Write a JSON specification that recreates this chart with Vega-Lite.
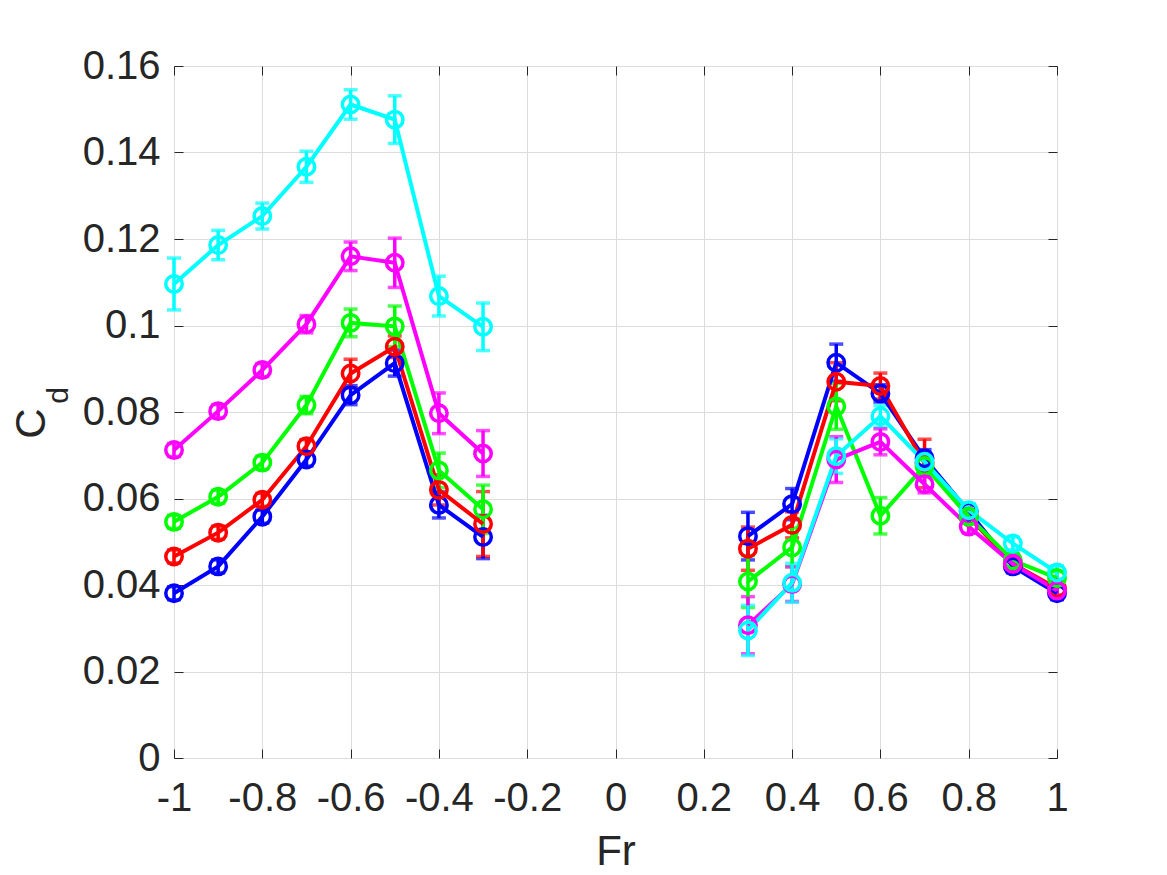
{
  "$schema": "https://vega.github.io/schema/vega-lite/v6.json",
  "width": 883,
  "height": 692,
  "autosize": {"type": "none"},
  "padding": {"left": 174, "top": 66, "right": 110, "bottom": 117},
  "background": "white",
  "config": {
    "view": {"stroke": "#262626", "strokeWidth": 1},
    "axis": {
      "labelFont": "Liberation Sans",
      "labelFontSize": 40,
      "labelColor": "#262626",
      "titleFont": "Liberation Sans",
      "titleColor": "#262626",
      "titleFontWeight": "normal",
      "tickColor": "#262626",
      "tickWidth": 1,
      "domain": false,
      "gridColor": "#dcdcdc",
      "gridWidth": 1
    }
  },
  "data": {
    "values": [
      {"s": "s1", "side": "neg", "fr": -1.0, "cd": 0.0381, "err": 0.0015},
      {"s": "s1", "side": "neg", "fr": -0.9, "cd": 0.0443, "err": 0.0015},
      {"s": "s1", "side": "neg", "fr": -0.8, "cd": 0.0558, "err": 0.0015},
      {"s": "s1", "side": "neg", "fr": -0.7, "cd": 0.0690, "err": 0.0015},
      {"s": "s1", "side": "neg", "fr": -0.6, "cd": 0.0839, "err": 0.0022},
      {"s": "s1", "side": "neg", "fr": -0.5, "cd": 0.0913, "err": 0.0030},
      {"s": "s1", "side": "neg", "fr": -0.4, "cd": 0.0585, "err": 0.0030},
      {"s": "s1", "side": "neg", "fr": -0.3, "cd": 0.0511, "err": 0.0050},
      {"s": "s1", "side": "pos", "fr": 0.3, "cd": 0.0513, "err": 0.0055},
      {"s": "s1", "side": "pos", "fr": 0.4, "cd": 0.0587, "err": 0.0036},
      {"s": "s1", "side": "pos", "fr": 0.5, "cd": 0.0914, "err": 0.0043},
      {"s": "s1", "side": "pos", "fr": 0.6, "cd": 0.0843, "err": 0.0020},
      {"s": "s1", "side": "pos", "fr": 0.7, "cd": 0.0693, "err": 0.0020},
      {"s": "s1", "side": "pos", "fr": 0.8, "cd": 0.0570, "err": 0.0015},
      {"s": "s1", "side": "pos", "fr": 0.9, "cd": 0.0443, "err": 0.0015},
      {"s": "s1", "side": "pos", "fr": 1.0, "cd": 0.0381, "err": 0.0015},

      {"s": "s2", "side": "neg", "fr": -1.0, "cd": 0.0466, "err": 0.0015},
      {"s": "s2", "side": "neg", "fr": -0.9, "cd": 0.0521, "err": 0.0015},
      {"s": "s2", "side": "neg", "fr": -0.8, "cd": 0.0597, "err": 0.0015},
      {"s": "s2", "side": "neg", "fr": -0.7, "cd": 0.0721, "err": 0.0015},
      {"s": "s2", "side": "neg", "fr": -0.6, "cd": 0.0889, "err": 0.0033},
      {"s": "s2", "side": "neg", "fr": -0.5, "cd": 0.0951, "err": 0.0025},
      {"s": "s2", "side": "neg", "fr": -0.4, "cd": 0.0620, "err": 0.0035},
      {"s": "s2", "side": "neg", "fr": -0.3, "cd": 0.0541, "err": 0.0075},
      {"s": "s2", "side": "pos", "fr": 0.3, "cd": 0.0484, "err": 0.0050},
      {"s": "s2", "side": "pos", "fr": 0.4, "cd": 0.0539, "err": 0.0030},
      {"s": "s2", "side": "pos", "fr": 0.5, "cd": 0.0870, "err": 0.0044},
      {"s": "s2", "side": "pos", "fr": 0.6, "cd": 0.0860, "err": 0.0030},
      {"s": "s2", "side": "pos", "fr": 0.7, "cd": 0.0681, "err": 0.0056},
      {"s": "s2", "side": "pos", "fr": 0.8, "cd": 0.0558, "err": 0.0015},
      {"s": "s2", "side": "pos", "fr": 0.9, "cd": 0.0449, "err": 0.0015},
      {"s": "s2", "side": "pos", "fr": 1.0, "cd": 0.0392, "err": 0.0015},

      {"s": "s3", "side": "neg", "fr": -1.0, "cd": 0.0546, "err": 0.0015},
      {"s": "s3", "side": "neg", "fr": -0.9, "cd": 0.0604, "err": 0.0015},
      {"s": "s3", "side": "neg", "fr": -0.8, "cd": 0.0683, "err": 0.0015},
      {"s": "s3", "side": "neg", "fr": -0.7, "cd": 0.0816, "err": 0.0020},
      {"s": "s3", "side": "neg", "fr": -0.6, "cd": 0.1006, "err": 0.0032},
      {"s": "s3", "side": "neg", "fr": -0.5, "cd": 0.0998, "err": 0.0047},
      {"s": "s3", "side": "neg", "fr": -0.4, "cd": 0.0665, "err": 0.0040},
      {"s": "s3", "side": "neg", "fr": -0.3, "cd": 0.0575, "err": 0.0056},
      {"s": "s3", "side": "pos", "fr": 0.3, "cd": 0.0408, "err": 0.0060},
      {"s": "s3", "side": "pos", "fr": 0.4, "cd": 0.0487, "err": 0.0045},
      {"s": "s3", "side": "pos", "fr": 0.5, "cd": 0.0813, "err": 0.0053},
      {"s": "s3", "side": "pos", "fr": 0.6, "cd": 0.0560, "err": 0.0042},
      {"s": "s3", "side": "pos", "fr": 0.7, "cd": 0.0675, "err": 0.0020},
      {"s": "s3", "side": "pos", "fr": 0.8, "cd": 0.0558, "err": 0.0015},
      {"s": "s3", "side": "pos", "fr": 0.9, "cd": 0.0457, "err": 0.0015},
      {"s": "s3", "side": "pos", "fr": 1.0, "cd": 0.0416, "err": 0.0015},

      {"s": "s4", "side": "neg", "fr": -1.0, "cd": 0.0712, "err": 0.0015},
      {"s": "s4", "side": "neg", "fr": -0.9, "cd": 0.0802, "err": 0.0015},
      {"s": "s4", "side": "neg", "fr": -0.8, "cd": 0.0897, "err": 0.0015},
      {"s": "s4", "side": "neg", "fr": -0.7, "cd": 0.1003, "err": 0.0020},
      {"s": "s4", "side": "neg", "fr": -0.6, "cd": 0.1160, "err": 0.0033},
      {"s": "s4", "side": "neg", "fr": -0.5, "cd": 0.1145, "err": 0.0057},
      {"s": "s4", "side": "neg", "fr": -0.4, "cd": 0.0797, "err": 0.0047},
      {"s": "s4", "side": "neg", "fr": -0.3, "cd": 0.0704, "err": 0.0053},
      {"s": "s4", "side": "pos", "fr": 0.3, "cd": 0.0307, "err": 0.0066},
      {"s": "s4", "side": "pos", "fr": 0.4, "cd": 0.0402, "err": 0.0040},
      {"s": "s4", "side": "pos", "fr": 0.5, "cd": 0.0690, "err": 0.0053},
      {"s": "s4", "side": "pos", "fr": 0.6, "cd": 0.0731, "err": 0.0030},
      {"s": "s4", "side": "pos", "fr": 0.7, "cd": 0.0633, "err": 0.0020},
      {"s": "s4", "side": "pos", "fr": 0.8, "cd": 0.0535, "err": 0.0015},
      {"s": "s4", "side": "pos", "fr": 0.9, "cd": 0.0449, "err": 0.0015},
      {"s": "s4", "side": "pos", "fr": 1.0, "cd": 0.0387, "err": 0.0015},

      {"s": "s5", "side": "neg", "fr": -1.0, "cd": 0.1096, "err": 0.0060},
      {"s": "s5", "side": "neg", "fr": -0.9, "cd": 0.1186, "err": 0.0034},
      {"s": "s5", "side": "neg", "fr": -0.8, "cd": 0.1253, "err": 0.0030},
      {"s": "s5", "side": "neg", "fr": -0.7, "cd": 0.1367, "err": 0.0036},
      {"s": "s5", "side": "neg", "fr": -0.6, "cd": 0.1511, "err": 0.0034},
      {"s": "s5", "side": "neg", "fr": -0.5, "cd": 0.1476, "err": 0.0055},
      {"s": "s5", "side": "neg", "fr": -0.4, "cd": 0.1068, "err": 0.0046},
      {"s": "s5", "side": "neg", "fr": -0.3, "cd": 0.0997, "err": 0.0055},
      {"s": "s5", "side": "pos", "fr": 0.3, "cd": 0.0295, "err": 0.0058},
      {"s": "s5", "side": "pos", "fr": 0.4, "cd": 0.0405, "err": 0.0045},
      {"s": "s5", "side": "pos", "fr": 0.5, "cd": 0.0698, "err": 0.0040},
      {"s": "s5", "side": "pos", "fr": 0.6, "cd": 0.0790, "err": 0.0025},
      {"s": "s5", "side": "pos", "fr": 0.7, "cd": 0.0685, "err": 0.0020},
      {"s": "s5", "side": "pos", "fr": 0.8, "cd": 0.0573, "err": 0.0015},
      {"s": "s5", "side": "pos", "fr": 0.9, "cd": 0.0496, "err": 0.0015},
      {"s": "s5", "side": "pos", "fr": 1.0, "cd": 0.0429, "err": 0.0015}
    ]
  },
  "layer": [
    {
      "mark": {"type": "errorbar", "ticks": {"size": 14, "thickness": 3.5}, "thickness": 3.5},
      "encoding": {
        "x": {"field": "fr", "type": "quantitative", "scale": {"domain": [-1, 1], "nice": false}, "axis": null},
        "y": {
          "field": "cd", "type": "quantitative", "scale": {"domain": [0, 0.16], "nice": false},
          "axis": {
            "orient": "left", "labels": false, "ticks": false, "grid": false,
            "title": "d", "titleFontSize": 30, "titleAngle": -90,
            "titleAlign": "center", "titleBaseline": "alphabetic",
            "titleX": -107, "titleY": 329
          }
        },
        "yError": {"field": "err"},
        "color": {
          "field": "s", "type": "nominal", "legend": null,
          "scale": {"domain": ["s1", "s2", "s3", "s4", "s5"], "range": ["#0000ff", "#ff0000", "#00ff00", "#ff00ff", "#00ffff"]}
        }
      }
    },
    {
      "mark": {"type": "line", "strokeWidth": 4},
      "encoding": {
        "x": {
          "field": "fr", "type": "quantitative",
          "axis": {
            "orient": "bottom", "values": [-1, -0.8, -0.6, -0.4, -0.2, 0, 0.2, 0.4, 0.6, 0.8, 1],
            "format": "~g", "labelExpr": "replace(datum.label, '−', '-')",
            "tickSize": -9, "labelPadding": 61, "labelBaseline": "alphabetic", "labelFlush": false,
            "grid": true, "title": "Fr", "titleFontSize": 42,
            "titleBaseline": "alphabetic", "titleY": 106
          }
        },
        "y": {
          "field": "cd", "type": "quantitative",
          "axis": {
            "orient": "left", "values": [0, 0.02, 0.04, 0.06, 0.08, 0.1, 0.12, 0.14, 0.16],
            "format": "~g", "tickSize": -9, "labelPadding": 23, "labelFlush": false,
            "grid": true, "title": "C", "titleFontSize": 42, "titleAngle": -90,
            "titleAlign": "center", "titleBaseline": "alphabetic",
            "titleX": -130, "titleY": 357
          }
        },
        "color": {"field": "s", "type": "nominal", "legend": null},
        "detail": {"field": "side", "type": "nominal"}
      }
    },
    {
      "mark": {"type": "point", "shape": "circle", "filled": false, "strokeWidth": 3.5, "size": 270, "opacity": 1},
      "encoding": {
        "x": {
          "field": "fr", "type": "quantitative",
          "axis": {
            "orient": "top", "values": [-1, -0.8, -0.6, -0.4, -0.2, 0, 0.2, 0.4, 0.6, 0.8, 1],
            "tickSize": -9, "labels": false, "grid": false, "title": null
          }
        },
        "y": {
          "field": "cd", "type": "quantitative",
          "axis": {
            "orient": "right", "values": [0, 0.02, 0.04, 0.06, 0.08, 0.1, 0.12, 0.14, 0.16],
            "tickSize": -9, "labels": false, "grid": false, "title": null
          }
        },
        "color": {"field": "s", "type": "nominal", "legend": null}
      }
    }
  ],
  "resolve": {"axis": {"x": "independent", "y": "independent"}}
}
